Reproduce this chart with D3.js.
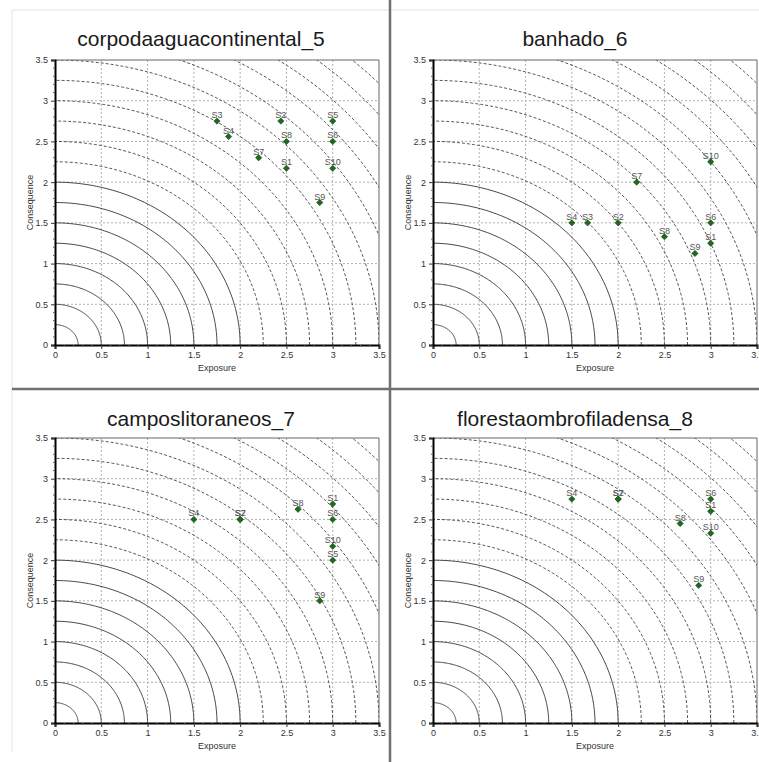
<!DOCTYPE html>
<html>
<head>
<meta charset="utf-8">
<script src="https://cdn.jsdelivr.net/npm/d3@7"></script>
<style>
  body { margin: 0; background: #fff; }
  svg { font-family: "Liberation Sans", Arial, sans-serif; }
</style>
</head>
<body>
<div id="container"></div>
<script>
// ---- data ----
var titles = ["corpodaaguacontinental_5", "banhado_6", "camposlitoraneos_7", "florestaombrofiladensa_8"];

var names5 = ["S3", "S4", "S2", "S5", "S8", "S6", "S7", "S1", "S10", "S9"];
var exposure5 = [1.75, 1.875, 2.44, 3.0, 2.5, 3.0, 2.2, 2.5, 3.0, 2.86];
var consequence5 = [2.75, 2.56, 2.75, 2.75, 2.5, 2.5, 2.3, 2.17, 2.17, 1.75];

var names6 = ["S10", "S7", "S4", "S3", "S2", "S6", "S8", "S1", "S9"];
var exposure6 = [3.0, 2.2, 1.5, 1.67, 2.0, 3.0, 2.5, 3.0, 2.83];
var consequence6 = [2.25, 2.0, 1.5, 1.5, 1.5, 1.5, 1.33, 1.25, 1.125];

var names7 = ["S4", "S2", "S7", "S8", "S1", "S6", "S10", "S5", "S9"];
var exposure7 = [1.5, 2.0, 2.0, 2.625, 3.0, 3.0, 3.0, 3.0, 2.86];
var consequence7 = [2.5, 2.5, 2.5, 2.625, 2.69, 2.5, 2.17, 2.0, 1.5];

var names8 = ["S4", "S2", "S7", "S6", "S1", "S8", "S10", "S9"];
var exposure8 = [1.5, 2.0, 2.0, 3.0, 3.0, 2.67, 3.0, 2.87];
var consequence8 = [2.75, 2.75, 2.75, 2.75, 2.6, 2.45, 2.33, 1.69];

var majorTicks = [0, 0.5, 1, 1.5, 2, 2.5, 3, 3.5];
var tickLabels = ["0", "0.5", "1", "1.5", "2", "2.5", "3", "3.5"];
var radii = [0.25, 0.5, 0.75, 1, 1.25, 1.5, 1.75, 2, 2.25, 2.5, 2.75, 3, 3.25, 3.5, 3.75, 4, 4.25, 4.5, 4.75];

// ---- layout ----
const W = 759, H = 762;
const svg = d3.select("#container").append("svg")
    .attr("width", W).attr("height", H);

// outer frame & separators
svg.append("line").attr("x1", 12).attr("x2", 12).attr("y1", 10).attr("y2", 752)
    .attr("stroke", "#e2e2e2");
svg.append("line").attr("x1", 12).attr("x2", W).attr("y1", 10).attr("y2", 10)
    .attr("stroke", "#e2e2e2");
svg.append("line").attr("x1", 12).attr("x2", W).attr("y1", 389).attr("y2", 389)
    .attr("stroke", "#707070").attr("stroke-width", 2.5);
svg.append("line").attr("x1", 390).attr("x2", 390).attr("y1", 0).attr("y2", H)
    .attr("stroke", "#707070").attr("stroke-width", 2.5);

var panels = [
  {title: titles[0], names: names5, xs: exposure5, ys: consequence5, left: 55, top: 60, cx: 201, ty: 46},
  {title: titles[1], names: names6, xs: exposure6, ys: consequence6, left: 433, top: 60, cx: 575, ty: 46},
  {title: titles[2], names: names7, xs: exposure7, ys: consequence7, left: 55, top: 438, cx: 201, ty: 426},
  {title: titles[3], names: names8, xs: exposure8, ys: consequence8, left: 433, top: 438, cx: 575, ty: 426}
];

const pw = 324, ph = 285;

panels.forEach(function(p, i) {
  var g = svg.append("g");
  var x = d3.scaleLinear().domain([0, 3.5]).range([p.left, p.left + pw]);
  var y = d3.scaleLinear().domain([0, 3.5]).range([p.top + ph, p.top]);

  g.append("text")
    .attr("x", p.cx).attr("y", p.ty)
    .attr("text-anchor", "middle")
    .attr("font-size", 21)
    .attr("fill", "#1a1a1a")
    .text(p.title);

  g.append("clipPath").attr("id", "clip" + i)
    .append("rect")
    .attr("x", p.left).attr("y", p.top).attr("width", pw).attr("height", ph);

  var plot = g.append("g").attr("clip-path", "url(#clip" + i + ")");

  // grid
  plot.selectAll("line.gx").data(majorTicks.slice(1, -1)).enter().append("line")
    .attr("x1", function(d) { return x(d); }).attr("x2", function(d) { return x(d); })
    .attr("y1", p.top).attr("y2", p.top + ph)
    .attr("stroke", "#b0b0b0").attr("stroke-dasharray", "2,2");
  plot.selectAll("line.gy").data(majorTicks.slice(1, -1)).enter().append("line")
    .attr("y1", function(d) { return y(d); }).attr("y2", function(d) { return y(d); })
    .attr("x1", p.left).attr("x2", p.left + pw)
    .attr("stroke", "#b0b0b0").attr("stroke-dasharray", "2,2");

  // risk arcs
  var arc = d3.line()
    .x(function(a) { return a[0]; })
    .y(function(a) { return a[1]; });
  plot.selectAll("path.arc").data(radii).enter().append("path")
    .attr("d", function(r) {
      var pts = d3.range(0, 91).map(function(k) {
        var t = k * Math.PI / 180;
        return [x(r * Math.cos(t)), y(r * Math.sin(t))];
      });
      return arc(pts);
    })
    .attr("fill", "none")
    .attr("stroke", function(r) { return r <= 2 ? "#333" : "#444"; })
    .attr("stroke-width", 0.9)
    .attr("stroke-dasharray", function(r) { return r <= 2 ? null : "3,2"; });

  // frame
  g.append("line").attr("x1", p.left).attr("x2", p.left + pw).attr("y1", p.top).attr("y2", p.top)
    .attr("stroke", "#666");
  g.append("line").attr("x1", p.left + pw).attr("x2", p.left + pw).attr("y1", p.top).attr("y2", p.top + ph)
    .attr("stroke", "#666");

  // axes
  var xAxis = d3.axisBottom(x).tickValues(majorTicks)
    .tickFormat(function(d, k) { return tickLabels[k]; }).tickSize(4).tickPadding(3);
  var yAxis = d3.axisLeft(y).tickValues(majorTicks)
    .tickFormat(function(d, k) { return tickLabels[k]; }).tickSize(4).tickPadding(3);

  var gx = g.append("g").attr("transform", "translate(0," + (p.top + ph) + ")").call(xAxis);
  var gy = g.append("g").attr("transform", "translate(" + p.left + ",0)").call(yAxis);
  [gx, gy].forEach(function(ax) {
    ax.select(".domain").attr("stroke", "#000").attr("stroke-width", 2);
    ax.selectAll(".tick line").attr("stroke", "#333");
    ax.selectAll("text").attr("font-size", 9).attr("fill", "#333")
      .attr("font-family", "Liberation Sans, Arial, sans-serif");
  });

  // minor ticks
  var minors = d3.range(1, 35).map(function(k) { return k / 10; })
    .filter(function(v) { return Math.abs(v * 2 - Math.round(v * 2)) > 1e-6; });
  g.selectAll("line.mx").data(minors).enter().append("line")
    .attr("x1", function(d) { return x(d); }).attr("x2", function(d) { return x(d); })
    .attr("y1", p.top + ph).attr("y2", p.top + ph + 2)
    .attr("stroke", "#666");
  g.selectAll("line.my").data(minors).enter().append("line")
    .attr("y1", function(d) { return y(d); }).attr("y2", function(d) { return y(d); })
    .attr("x1", p.left).attr("x2", p.left - 2)
    .attr("stroke", "#666");

  g.append("text")
    .attr("x", p.left + pw / 2).attr("y", p.top + ph + 26)
    .attr("text-anchor", "middle").attr("font-size", 9).attr("fill", "#333")
    .text("Exposure");
  g.append("text")
    .attr("transform", "translate(" + (p.left - 22) + "," + (p.top + ph / 2) + ") rotate(-90)")
    .attr("text-anchor", "middle").attr("font-size", 9).attr("fill", "#333")
    .text("Consequence");

  // points
  var pts = p.names.map(function(n, k) { return {name: n, ex: p.xs[k], co: p.ys[k]}; });
  var sym = d3.symbol().type(d3.symbolSquare).size(20);
  g.selectAll("path.pt").data(pts).enter().append("path")
    .attr("d", sym)
    .attr("transform", function(d) { return "translate(" + x(d.ex) + "," + y(d.co) + ") rotate(45)"; })
    .attr("fill", "#1d6b1d").attr("stroke", "#0c3f0c").attr("stroke-width", 0.5);
  g.selectAll("text.lbl").data(pts).enter().append("text")
    .attr("x", function(d) { return x(d.ex); })
    .attr("y", function(d) { return y(d.co) - 3; })
    .attr("text-anchor", "middle").attr("font-size", 9).attr("fill", "#555")
    .text(function(d) { return d.name; });
});
</script>
</body>
</html>
